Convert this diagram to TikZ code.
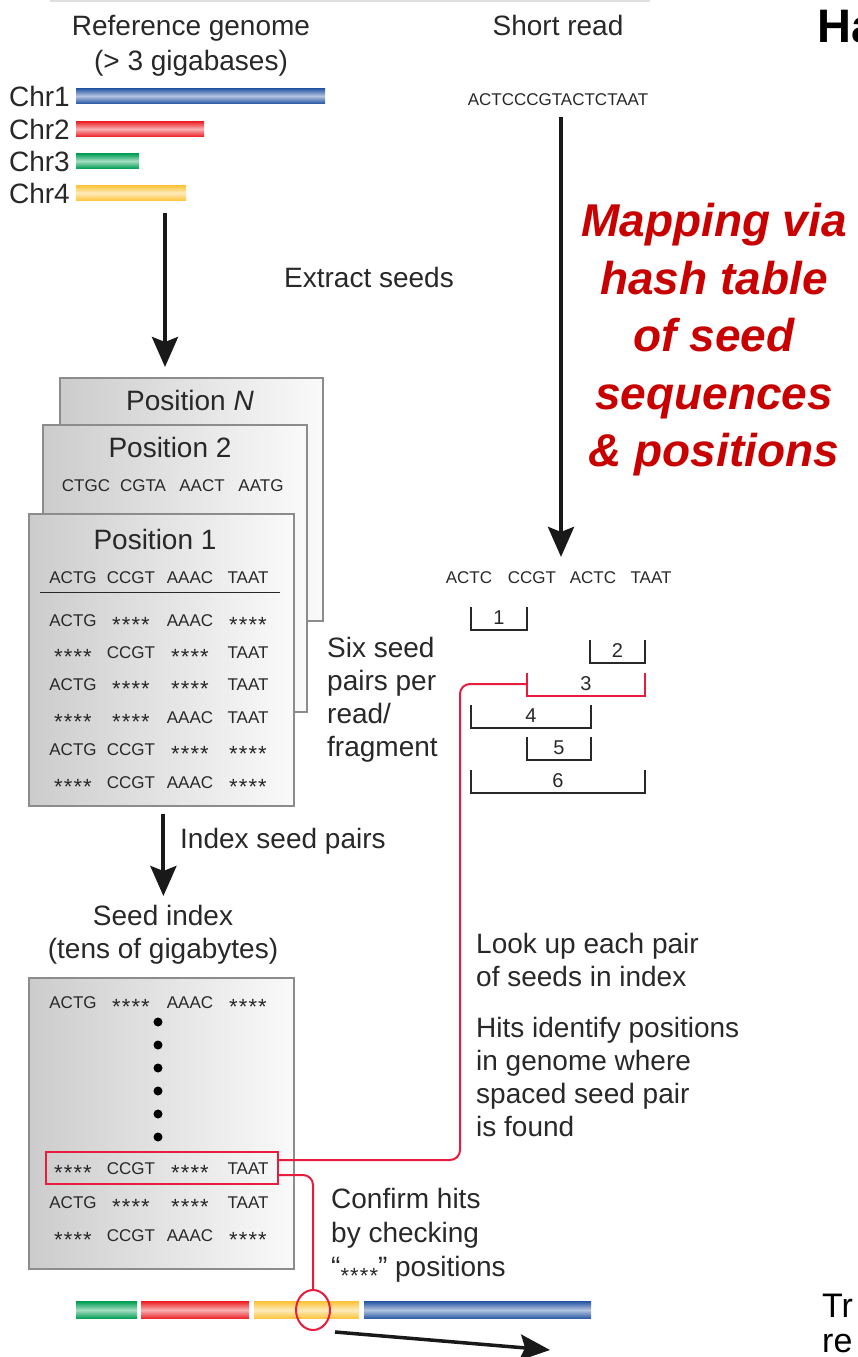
\documentclass[tikz,border=0pt]{standalone}
\usepackage{fontspec}
\setmainfont{Liberation Sans}
\usepackage{tikz}
\usetikzlibrary{arrows.meta,positioning,shapes.geometric,calc}
\definecolor{txtGray}{RGB}{40,40,40}
\definecolor{arrowBlack}{RGB}{25,25,25}
\definecolor{boxGray}{RGB}{140,140,140}
\definecolor{mapRed}{RGB}{200,0,0}
\definecolor{hitRed}{RGB}{232,28,60}
\definecolor{chrBlue}{RGB}{40,88,165}
\definecolor{chrRed}{RGB}{236,34,38}
\definecolor{chrGreen}{RGB}{0,158,84}
\definecolor{chrYellow}{RGB}{253,196,60}
\newcommand{\stars}{\raisebox{-.75ex}{\fontsize{22}{22}\selectfont*\kern.05em*\kern.05em*\kern.05em*}}

\begin{document}
\begin{tikzpicture}[x=1pt,y=-1pt,
    lbl/.style={font=\fontsize{28}{33}\selectfont, text=txtGray, inner sep=0pt},
    seq/.style={font=\fontsize{17}{19}\selectfont, text=txtGray, inner sep=0pt, anchor=base},
    pairnum/.style={font=\fontsize{20}{22}\selectfont, text=txtGray, inner sep=0pt, anchor=base},
    chrbar/.style={minimum height=15pt, inner sep=0pt, anchor=west,
      top color=#1, bottom color=#1, middle color=#1!35},
    posbox/.style={draw=boxGray, line width=1.8pt, left color=gray!40,
      right color=gray!4, inner sep=0pt, anchor=north west},
    bigarrow/.style={draw=arrowBlack, line width=4pt,
      -{Stealth[length=30pt,width=26pt,inset=5pt]}},
    bracketline/.style={draw=txtGray, line width=2.4pt},
    hitline/.style={draw=hitRed, line width=2pt, rounded corners=10pt},
    mapnote/.style={font=\fontsize{46}{57.5}\selectfont\bfseries\itshape,
      text=mapRed, align=center, inner sep=0pt},
    dot/.style={circle, fill=black, inner sep=0pt, minimum size=9pt}]
  \useasboundingbox (0,0) rectangle (857,1357);
  \draw[gray!25, line width=2pt] (50,1) -- (650,1);

  % reference genome
  \node[lbl, align=center, anchor=north, font=\fontsize{28}{35}\selectfont]
    (refgenome) at (191,15) {Reference genome\\(> 3 gigabases)};
  \node[chrbar=chrBlue, minimum width=249pt] (chr1) at (76,96) {};
  \node[chrbar=chrRed, minimum width=128pt] (chr2) at (76,129) {};
  \node[chrbar=chrGreen, minimum width=63pt] (chr3) at (76,161) {};
  \node[chrbar=chrYellow, minimum width=110pt] (chr4) at (76,193) {};
  \foreach \i in {1,...,4}
    \node[lbl, left=6pt of chr\i] (chrlabel\i) {Chr\i};

  % short read
  \node[lbl, anchor=base] (shortread) at (558,35) {Short read};
  \node[seq] (readseq) at (558,105) {ACTCCCGTACTCTAAT};
  \node[font=\fontsize{47}{50}\selectfont\bfseries, anchor=base west, inner sep=0pt]
    (hatitle) at (817,42) {Ha};
  \node[mapnote, anchor=north] (mapnote) at (714,203)
    {Mapping via\\hash table\\of seed\\sequences\\\& positions};

  % seed positions
  \coordinate (seedsrc) at (165,213);
  \node[lbl, anchor=base] (extract) at (369,287) {Extract seeds};
  \node[posbox, minimum width=263pt, minimum height=243pt] (posN) at (59,377) {};
  \node[posbox, minimum width=264pt, minimum height=287pt] (posTwo) at (42,424) {};
  \node[posbox, minimum width=265pt, minimum height=292pt] (posOne) at (28,513) {};
  \draw[bigarrow, shorten >=10pt] (seedsrc) -- (seedsrc |- posN.north);

  \node[lbl, anchor=base] (posNtitle) at (190,410) {Position \textit{N}};
  \node[lbl, anchor=base] (posTwotitle) at (170,457) {Position 2};
  \node[seq] (two1) at (86,491) {CTGC};
  \node[seq] (two2) at (143,491) {CGTA};
  \node[seq] (two3) at (202,491) {AACT};
  \node[seq] (two4) at (261,491) {AATG};
  \node[lbl, anchor=base] (posOnetitle) at (155,549) {Position 1};
  \node[seq] (one1) at (73,583) {ACTG};
  \node[seq] (one2) at (131,583) {CCGT};
  \node[seq] (one3) at (190,583) {AAAC};
  \node[seq] (one4) at (248,583) {TAAT};
  \draw[txtGray, line width=1pt] (40,592) -- (280,592);
  \foreach \y/\a/\b/\c/\d [count=\i] in {626/ACTG/\stars/AAAC/\stars,
      658/\stars/CCGT/\stars/TAAT, 690/ACTG/\stars/\stars/TAAT,
      723/\stars/\stars/AAAC/TAAT, 755/ACTG/CCGT/\stars/\stars,
      788/\stars/CCGT/AAAC/\stars} {
    \node[seq] (pair\i a) at (73,\y) {\a};
    \node[seq] (pair\i b) at (131,\y) {\b};
    \node[seq] (pair\i c) at (190,\y) {\c};
    \node[seq] (pair\i d) at (248,\y) {\d};
  }
  \node[lbl, align=left, anchor=north west] (sixpairs) at (327,637)
    {Six seed\\pairs per\\read/\\fragment};

  % read seeds and pairs
  \node[seq] (rs1) at (469,583) {ACTC};
  \node[seq] (rs2) at (532,583) {CCGT};
  \node[seq] (rs3) at (593,583) {ACTC};
  \node[seq] (rs4) at (651,583) {TAAT};
  \draw[bigarrow, shorten <=12pt, shorten >=14pt]
    ([xshift=3pt]readseq.south) -- ([xshift=3pt]readseq.south |- rs1.north);
  \foreach \xa/\xb/\yt/\num in {471/527/607/1, 590/645/640/2, 471/591/705/4,
      527/591/737/5, 471/645/770/6} {
    \draw[bracketline] (\xa,\yt) -- (\xa,\yt+23) -- (\xb,\yt+23) -- (\xb,\yt);
    \node[pairnum] (pairno\num) at ({(\xa+\xb)/2},\yt+17) {\num};
  }
  \draw[bracketline, draw=hitRed] (527,673) -- (527,696) -- (645,696) -- (645,673);
  \node[pairnum] (pairno3) at (586,690) {3};
  \coordinate (pair3) at (527,684);

  % seed index
  \node[lbl, anchor=base west] (indexstep) at (180,848) {Index seed pairs};
  \node[lbl, align=center, anchor=north] (idxlabel) at (163,905)
    {Seed index\\(tens of gigabytes)};
  \draw[bigarrow, shorten <=7pt, shorten >=9pt]
    ([xshift=2pt]posOne.south) -- ([xshift=2pt]posOne.south |- idxlabel.north);
  \node[posbox, minimum width=265pt, minimum height=291pt] (seedindex) at (28,977) {};
  \node[seq] (idx1a) at (73,1008) {ACTG};
  \node[seq] (idx1b) at (131,1008) {\stars};
  \node[seq] (idx1c) at (190,1008) {AAAC};
  \node[seq] (idx1d) at (248,1008) {\stars};
  \foreach \k in {0,...,5}
    \node[dot] (more\k) at (158,1022+23*\k) {};
  \node[draw=hitRed, line width=2pt, minimum width=232pt, minimum height=32pt,
    inner sep=0pt] (hitrow) at (162,1168) {};
  \foreach \y/\a/\b/\c/\d [count=\i] in {1174/\stars/CCGT/\stars/TAAT,
      1208/ACTG/\stars/\stars/TAAT, 1241/\stars/CCGT/AAAC/\stars} {
    \node[seq] (idxrow\i a) at (73,\y) {\a};
    \node[seq] (idxrow\i b) at (131,\y) {\b};
    \node[seq] (idxrow\i c) at (190,\y) {\c};
    \node[seq] (idxrow\i d) at (248,\y) {\d};
  }

  % look up and confirm
  \node[lbl, align=left, anchor=north west] (lookup) at (476,933)
    {Look up each pair\\of seeds in index};
  \node[lbl, align=left, anchor=north west] (hits) at (476,1017)
    {Hits identify positions\\in genome where\\spaced seed pair\\is found};
  \node[lbl, align=left, anchor=north west, font=\fontsize{28}{34}\selectfont]
    (confirm) at (331,1188)
    {Confirm hits\\by checking\\“{\fontsize{17}{17}\selectfont\stars}” positions};

  % genome bar
  \foreach \xa/\xb/\col [count=\i] in {76/137/chrGreen, 141/249/chrRed,
      254/359/chrYellow, 364/591/chrBlue}
    \node[chrbar=\col, minimum width={(\xb-\xa)*1pt}, minimum height=17pt]
      (seg\i) at (\xa,1310) {};
  \node[draw=hitRed, line width=2pt, ellipse, minimum width=34pt,
    minimum height=40pt, inner sep=0pt] (hitmark) at (313,1310) {};
  \coordinate (hitA) at ([yshift=8pt]hitrow.east);
  \coordinate (hitB) at ([yshift=-7pt]hitrow.east);
  \coordinate (lookbend) at (460,684);
  \draw[hitline] (pair3) -- (lookbend) -- (lookbend |- hitA) -- (hitA);
  \draw[hitline] (hitB) -- (hitB -| hitmark.north) -- (hitmark.north);
  \coordinate (mapout) at (550,1350);
  \draw[bigarrow, line width=3.5pt] ([xshift=22pt,yshift=-1pt]hitmark.south) -- (mapout);

  \node[font=\fontsize{34}{36}\selectfont, anchor=base west, inner sep=0pt]
    (trtext) at (822,1317) {Tr};
  \node[font=\fontsize{34}{36}\selectfont, anchor=base west, inner sep=0pt]
    (retext) at (822,1352) {re};
\end{tikzpicture}
\end{document}
